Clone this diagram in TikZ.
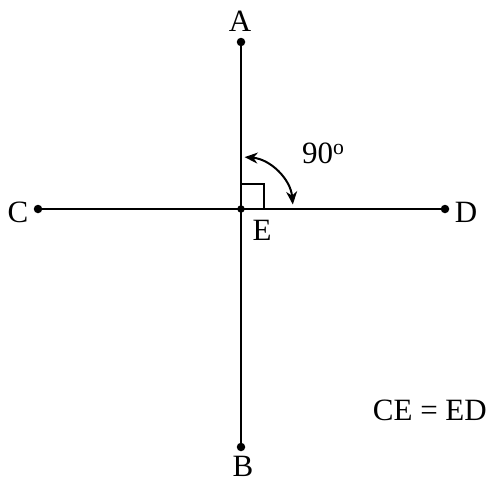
\documentclass[tikz,border=0pt]{standalone}
\usepackage{fontspec}
\setmainfont{Liberation Serif}
\usetikzlibrary{arrows.meta}
\begin{document}
\begin{tikzpicture}[x=1pt,y=-1pt,
  seg/.style={line width=2.4pt},
  lbl/.style={font=\fontsize{31}{33}\selectfont, inner sep=0pt},
  tip/.style={Stealth[length=13pt,width=11pt]},
  pt/.style={circle, fill=black, inner sep=0pt, minimum size=8.5pt}]
\useasboundingbox (0,0) rectangle (488,482);
\node[pt] (A) at (241,42) {};
\node[pt] (B) at (241,447) {};
\node[pt] (C) at (38,209) {};
\node[pt] (D) at (445,209) {};
\node[pt, minimum size=7.5pt] (E) at (241,209) {};
\draw[seg] (A.center) -- (B.center);
\draw[seg] (C.center) -- (D.center);
\draw[line width=2pt] (241,184) -- (264,184) -- (264,209);
\draw[line width=2pt, {Stealth[length=13pt,width=11pt]}-{Stealth[length=13pt,width=11pt]}]
  ([shift={(-86:52)}]E.center) arc[start angle=-86, end angle=-5, radius=52];
\node[lbl] (lA) at (240,21) {A};
\node[lbl] (lB) at (243,466) {B};
\node[lbl] (lC) at (18,212) {C};
\node[lbl] (lD) at (466,212) {D};
\node[lbl] (lE) at (262,230) {E};
\node[lbl, anchor=west] (l90) at (302,153) {90\textsuperscript{o}};
\node[lbl, anchor=east] (eq) at (487,410) {CE = ED};
\end{tikzpicture}
\end{document}
